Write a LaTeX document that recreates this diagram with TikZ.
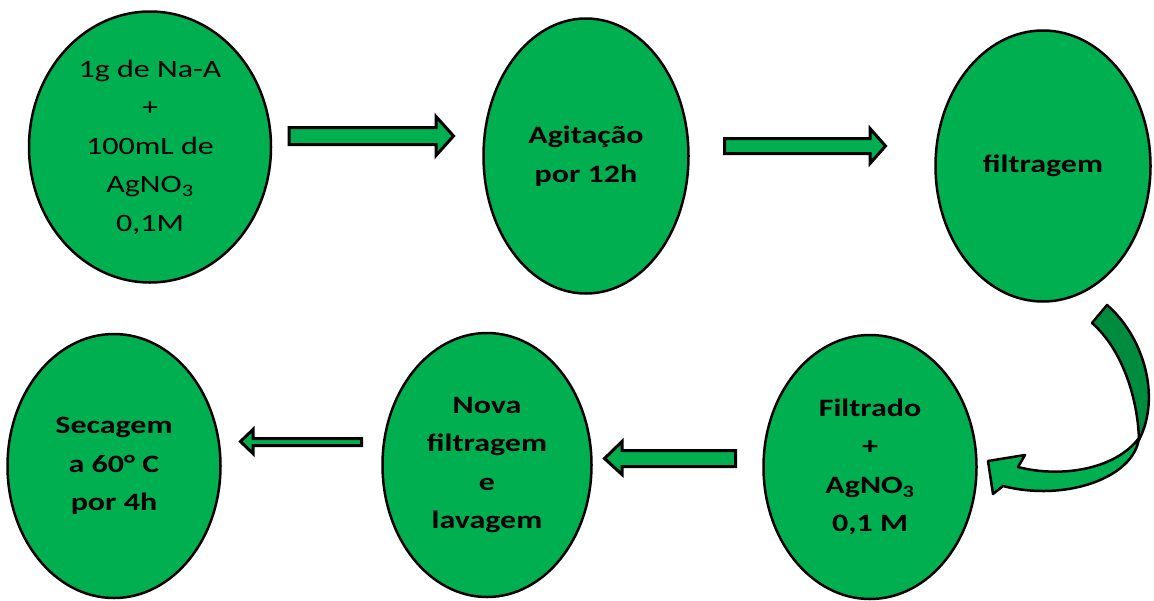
\documentclass[tikz,border=0pt]{standalone}
\usepackage{fontspec}
\setmainfont{Carlito}[FakeStretch=1.28]
\usetikzlibrary{shapes.geometric}
\definecolor{gr}{HTML}{00B050}
\definecolor{dgr}{HTML}{008C3F}
\begin{document}
\begin{tikzpicture}[x=1pt,y=-1pt,
  ell/.style={ellipse, draw=black, line width=2.5pt, fill=gr, inner sep=0pt, align=center,
    font=\fontsize{25}{38.5}\selectfont\bfseries, text=black},
  ellreg/.style={ell, font=\fontsize{25}{38.5}\selectfont\mdseries},
  blk/.style={draw=black, line width=3pt, fill=gr, line join=miter},
  curv/.style={draw=black, line width=2.5pt, line join=round}]
\useasboundingbox (0,0) rectangle (1154,600);

% top row
\node[ellreg, minimum width=242pt, minimum height=271pt] (e1) at (150,147)
  {1g de Na-A\\+\\100mL de\\AgNO\textsubscript{3}\\0,1M};
\node[ell, minimum width=205pt, minimum height=275pt] (e2) at (586,156)
  {Agitação\\por 12h};
\node[ell, minimum width=215pt, minimum height=271pt] (e3) at (1043,166)
  {filtragem};

% bottom row
\node[ell, minimum width=213pt, minimum height=264pt] (e6) at (870,467)
  {Filtrado\\+\\AgNO\textsubscript{3}\\0,1 M};
\node[ell, minimum width=209pt, minimum height=264pt] (e5) at (487,465)
  {Nova\\filtragem\\e\\lavagem};
\node[ell, minimum width=213pt, minimum height=264pt] (e4) at (114,466)
  {Secagem\\a 60° C\\por 4h};

% block arrows
\coordinate (a1) at (289,136);
\draw[blk] (a1) ++(0,-8.5) -- ++(147,0) -- ++(0,-11) -- (453.5,136) -- (436,155.5)
  -- ++(0,-11) -- ++(-147,0) -- cycle;
\coordinate (a2) at (724.5,146);
\draw[blk] (a2) ++(0,-7.5) -- ++(145.5,0) -- ++(0,-10) -- (885.5,146) -- (870,163.5)
  -- ++(0,-10) -- ++(-145.5,0) -- cycle;
\coordinate (a3) at (735.5,458.5);
\draw[blk] (a3) ++(0,-8) -- ++(-113.5,0) -- ++(0,-9) -- (604.5,458.5) -- (622,474.5)
  -- ++(0,-8) -- ++(113.5,0) -- cycle;
\coordinate (a4) at (361.5,442);
\draw[blk] (a4) ++(0,-3.5) -- ++(-108.5,0) -- ++(0,-9) -- (240.5,441.5) -- (253,453.5)
  -- ++(0,-8) -- ++(108.5,0) -- cycle;

% curved arrow from filtragem to Filtrado
\coordinate (c0) at (1092,323);
\draw[curv, fill=dgr] (c0) -- (1107,305) .. controls (1142,335) and (1162,395) .. (1139,440)
  .. controls (1138,400) and (1123,350) .. (c0) -- cycle;
\draw[curv, fill=gr] (1139,438) .. controls (1134,478) and (1065,502) .. (1003,486)
  -- (993,494) -- (988,461) -- (1025,455) -- (1018,467)
  .. controls (1060,478) and (1115,470) .. (1139,438) -- cycle;
\end{tikzpicture}
\end{document}
